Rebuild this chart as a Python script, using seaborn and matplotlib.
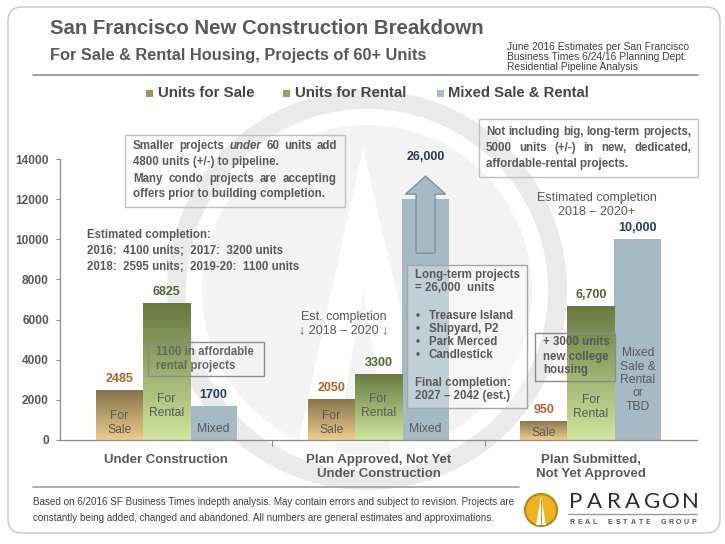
import matplotlib
matplotlib.use('Agg')
import numpy as np
import pandas as pd
import matplotlib.pyplot as plt
import seaborn as sns
from matplotlib import font_manager
from matplotlib.colors import LinearSegmentedColormap
from matplotlib.patches import Rectangle, FancyBboxPatch, Polygon, Circle

# ---- data ----
stages = ['Under Construction', 'Plan Approved, Not Yet\nUnder Construction',
          'Plan Submitted,\nNot Yet Approved']
unit_types = ['Units for Sale', 'Units for Rental', 'Mixed Sale & Rental']
sale = [2485, 2050, 950]
rental = [6825, 3300, 6700]
mixed = [1700, 12000, 10000]      # middle bar is drawn cut off, real total 26,000
sale_lbl = ['2485', '2050', '950']
rental_lbl = ['6825', '3300', '6,700']
mixed_lbl = ['1700', '26,000', '10,000']
sale_in = ['For\nSale', 'For\nSale', 'Sale']
rental_in = ['For\nRental', 'For\nRental', 'For\nRental']
mixed_in = ['Mixed', 'Mixed', 'Mixed\nSale &\nRental\nor\nTBD']
yticks = [0, 2000, 4000, 6000, 8000, 10000, 12000, 14000]

df = pd.DataFrame({'stage': stages * 3,
                   'type': np.repeat(unit_types, 3),
                   'units': sale + rental + mixed})

W, H = 725, 544
GREY = '#595959'
sale_top, sale_bot = '#85744A', '#EECC8E'
rent_top, rent_bot = '#67793F', '#D0E69E'
mixed_c = '#A6BAC6'
lbl_colors = ['#B4612B', '#55662C', '#22405C']

sns.set_theme(style='white')
names = {f.name for f in font_manager.fontManager.ttflist}
NARROW = 'Liberation Sans Narrow' if 'Liberation Sans Narrow' in names else 'Liberation Sans'
plt.rcParams['font.family'] = ['Liberation Sans', 'DejaVu Sans']

fig = plt.figure(figsize=(7.25, 5.44), dpi=100)
R = fig.canvas.get_renderer()


def pix_axes(z):
    a = fig.add_axes([0, 0, 1, 1], zorder=z)
    a.set_xlim(0, W)
    a.set_ylim(H, 0)
    a.axis('off')
    return a


bg = pix_axes(0)
ax = fig.add_axes([60 / W, 1 - 440 / H, 637 / W, 281 / H], zorder=1)
ax.patch.set_alpha(0)
ov = pix_axes(2)


def fit(t, width):
    w = t.get_window_extent(R).width
    t.set_fontsize(t.get_fontsize() * width / w)
    return t


def justify(a, words, x0, x1, y, **kw):
    texts = []
    for w in words:
        extra = {}
        if isinstance(w, tuple):
            w, extra = w
        texts.append(a.text(x0, y, w, va='center', ha='left', **kw, **extra))
    widths = [t.get_window_extent(R).width for t in texts]
    gap = (x1 - x0 - sum(widths)) / (len(words) - 1)
    x = x0
    for t, wd in zip(texts, widths):
        t.set_x(x)
        x += wd + gap


def spaced(a, s, x0, x1, y, **kw):
    xs = np.linspace(x0, x1, len(s))
    for ch, x in zip(s, xs):
        a.text(x, y, ch, ha='center', va='center', **kw)


# ---- watermark + frame ----
cx, cy = 367, 290
bg.add_patch(Circle((cx, cy), 200, fc='#EAEAEA', lw=0))
bg.add_patch(Circle((cx, cy), 181, fc='white', lw=0))
inner = Circle((cx, cy), 165, fc='#F3F3F3', lw=0)
bg.add_patch(inner)
a_out = Polygon([(363, 148), (290, 480), (440, 480)], fc='white', lw=0)
a_in = Polygon([(363, 292), (330, 480), (396, 480)], fc='#F3F3F3', lw=0)
for p in (a_out, a_in):
    bg.add_patch(p)
    p.set_clip_path(inner)
bg.add_patch(FancyBboxPatch((8, 7), 712, 526, boxstyle='round,pad=0,rounding_size=14',
                            fc='none', ec='#C8C8C8', lw=1))
bg.plot([33, 698], [75, 75], color='#8C8C8C', lw=1.2)
bg.plot([33, 519], [487, 487], color='#A0A0A0', lw=1.2)

# ---- header ----
fit(bg.text(50, 34, 'San Francisco New Construction Breakdown', fontsize=14,
            fontweight='bold', color=GREY, va='baseline'), 436)
fit(bg.text(50, 60, 'For Sale & Rental Housing, Projects of 60+ Units', fontsize=11,
            fontweight='bold', color=GREY, va='baseline'), 378)
t = fit(bg.text(507, 47, 'June 2016 Estimates per San Francisco', fontsize=7,
                family=NARROW, color='#404040', va='center'), 183)
for yy, s in [(57, 'Business Times 6/24/16 Planning Dept.'), (67, 'Residential Pipeline Analysis')]:
    bg.text(507, yy, s, fontsize=t.get_fontsize(), family=NARROW, color='#404040', va='center')

# ---- legend ----
for sx, tx, wd, col, lab in [(146, 158, 97, '#A4925A', unit_types[0]),
                             (283, 295, 112, '#8FA35C', unit_types[1]),
                             (437, 448, 142, '#A9BDC9', unit_types[2])]:
    bg.add_patch(Rectangle((sx, 90), 7, 7, fc=col, lw=0))
    fit(bg.text(tx, 93, lab, fontsize=11, fontweight='bold', color='#454545', va='center'), wd)

# ---- bars ----
pal = dict(zip(unit_types, [sale_top, rent_top, mixed_c]))
sns.barplot(data=df, x='stage', y='units', hue='type', order=stages, hue_order=unit_types,
            palette=pal, width=0.665, saturation=1, errorbar=None, legend=False,
            linewidth=0, ax=ax)

grad = np.linspace(0, 1, 256).reshape(-1, 1)
for cont, (c_top, c_bot) in zip(ax.containers[:2], [(sale_top, sale_bot), (rent_top, rent_bot)]):
    cmap = LinearSegmentedColormap.from_list('g', [c_bot, c_top])
    for bar in cont:
        x0, w, h = bar.get_x(), bar.get_width(), bar.get_height()
        im = ax.imshow(grad, extent=[x0, x0 + w, 0, h], origin='lower', aspect='auto',
                       cmap=cmap, zorder=bar.get_zorder() + 0.1)
        im.set_clip_path(bar)

ax.set_xlim(-0.5, 2.5)
ax.set_ylim(0, 14000)
upp = 14000 / 281   # data units per pixel

# arrow on the cut-off bar
mid = ax.containers[2][1]
mcx = mid.get_x() + mid.get_width() / 2
top = mid.get_height()
sw, hw = 9.5 / 212.3, 20 / 212.3
ax.add_patch(Polygon([(mcx - sw, top - 54 * upp), (mcx + sw, top - 54 * upp),
                      (mcx + sw, top + 5 * upp), (mcx + hw, top + 5 * upp),
                      (mcx, top + 23 * upp), (mcx - hw, top + 5 * upp),
                      (mcx - sw, top + 5 * upp)],
                     fc=mixed_c, ec='#7E909C', lw=1, zorder=3, clip_on=False))

inner_off = [[17, 17, 7], [34, 34, 33], [11, 11, 60]]
for k, (cont, labs, ins, col) in enumerate(zip(ax.containers, [sale_lbl, rental_lbl, mixed_lbl],
                                              [sale_in, rental_in, mixed_in], lbl_colors)):
    for j, (bar, lab, inn) in enumerate(zip(cont, labs, ins)):
        bx = bar.get_x() + bar.get_width() / 2
        h = bar.get_height()
        if bar is mid:
            ax.text(bx, h + 42 * upp, lab, ha='center', va='center', fontsize=9,
                    fontweight='bold', color=col, zorder=5)
        else:
            ax.annotate(lab, (bx, h), xytext=(0, 11), textcoords='offset pixels',
                        ha='center', va='center', fontsize=9, fontweight='bold',
                        color=col, zorder=5)
        ax.annotate(inn, (bx, 0), xytext=(0, inner_off[k][j]), textcoords='offset pixels',
                    ha='center', va='center', fontsize=8.7, color=GREY,
                    linespacing=1.15, zorder=5)

# ---- axes styling ----
sns.despine(ax=ax)
for s in ('left', 'bottom'):
    ax.spines[s].set_color('#8C8C8C')
    ax.spines[s].set_linewidth(0.9)
ax.set_yticks(yticks)
ax.set_yticklabels([str(v) for v in yticks], fontweight='bold')
ax.tick_params(axis='y', left=True, length=3, width=0.8, color='#8C8C8C',
               labelsize=8.6, labelcolor=GREY, pad=5)
ax.set_xticks([0.5, 1.5], minor=True)
ax.tick_params(axis='x', which='major', bottom=False, pad=4, labelsize=9.5, labelcolor=GREY)
ax.tick_params(axis='x', which='minor', bottom=True, length=4, width=0.8, color='#8C8C8C')
for lab in ax.get_xticklabels():
    lab.set_fontweight('bold')
    lab.set_linespacing(1.25)
ax.set_xlabel('')
ax.set_ylabel('')

# ---- annotations ----
bold = dict(fontsize=8.3, fontweight='bold', color=GREY)
ov.add_patch(Rectangle((125, 135), 220, 72, fc='none', ec='#BFBFBF', lw=1))
justify(ov, ['Smaller', 'projects', ('under', {'fontstyle': 'italic'}), '60', 'units', 'add'],
        133, 337, 146, **bold)
ov.text(133, 162, '4800 units (+/-) to pipeline.', va='center', **bold)
justify(ov, ['Many', 'condo', 'projects', 'are', 'accepting'], 133, 337, 179, **bold)
ov.text(133, 194, 'offers prior to building completion.', va='center', **bold)

ov.text(87, 235, 'Estimated completion:', va='center', **bold)
ov.text(87, 251, '2016:  4100 units;  2017:  3200 units', va='center', **bold)
ov.text(87, 267, '2018:  2595 units;  2019-20:  1100 units', va='center', **bold)

ov.add_patch(Rectangle((148, 342), 116, 34, fc='none', ec='#8C8C8C', lw=1))
ov.text(156, 352, '1100 in affordable', va='center', **dict(bold, color='#666666'))
ov.text(156, 366, 'rental projects', va='center', **dict(bold, color='#666666'))

ov.text(344, 317, 'Est. completion', ha='center', va='center', fontsize=9, color=GREY)
ov.text(344, 330, '\u2193 2018 \u2013 2020 \u2193', ha='center', va='center', fontsize=9, color=GREY)

ov.add_patch(Rectangle((407, 265), 120, 143, fc=(1, 1, 1, 0.3), ec='#A6A6A6', lw=1))
for yy, s in [(275, 'Long-term projects'), (288, '= 26,000  units'),
              (383, 'Final completion:'), (396, '2027 \u2013 2042 (est.)')]:
    ov.text(415, yy, s, va='center', **bold)
for yy, s in [(316, 'Treasure Island'), (329, 'Shipyard, P2'), (342, 'Park Merced'),
              (355, 'Candlestick')]:
    ov.text(416, yy, '\u2022', va='center', **bold)
    ov.text(429, yy, s, va='center', **bold)

ov.add_patch(Rectangle((479, 119), 219, 58, fc='none', ec='#BFBFBF', lw=1))
justify(ov, ['Not', 'including', 'big,', 'long-term', 'projects,'], 486, 691, 132, **bold)
justify(ov, ['5000', 'units', '(+/-)', 'in', 'new,', 'dedicated,'], 486, 691, 148, **bold)
ov.text(486, 164, 'affordable-rental projects.', va='center', **bold)

ov.text(597, 198, 'Estimated completion', ha='center', va='center', fontsize=9, color=GREY)
ov.text(597, 212, '2018 \u2013 2020+', ha='center', va='center', fontsize=9, color=GREY)

ov.add_patch(Rectangle((535, 333), 80, 48, fc='none', ec='#8C8C8C', lw=1))
for yy, s in [(342, '+ 3000 units'), (357, 'new college'), (370, 'housing')]:
    ov.text(543, yy, s, va='center', **bold)

# ---- footer + logo ----
f1 = fit(bg.text(33, 502, 'Based on 6/2016 SF Business Times indepth analysis. May contain errors '
                 'and subject to revision. Projects are', fontsize=7, family=NARROW,
                 color='#404040', va='center'), 483)
bg.text(33, 518, 'constantly being added, changed and abandoned. All numbers are general '
        'estimates and approximations.', fontsize=f1.get_fontsize(), family=NARROW,
        color='#404040', va='center')
bg.add_patch(Circle((541, 510), 16, fc='#EFB321', ec='#B98517', lw=1.5))
bg.add_patch(Polygon([(541, 496), (536, 525), (546, 525)], fc='white', lw=0))
bg.plot([541, 541], [500, 525], color='#B98517', lw=0.6)
spaced(bg, 'PARAGON', 576, 690, 502, fontsize=16, color='#2E2E2E', family='Lato',
       fontweight='normal')
bg.plot([568, 697], [514, 514], color='#9A9A9A', lw=1)
spaced(bg, 'REAL ESTATE GROUP', 572, 694, 522, fontsize=5, color='#555555', fontweight='bold')

fig.savefig('out.png', dpi=100)
